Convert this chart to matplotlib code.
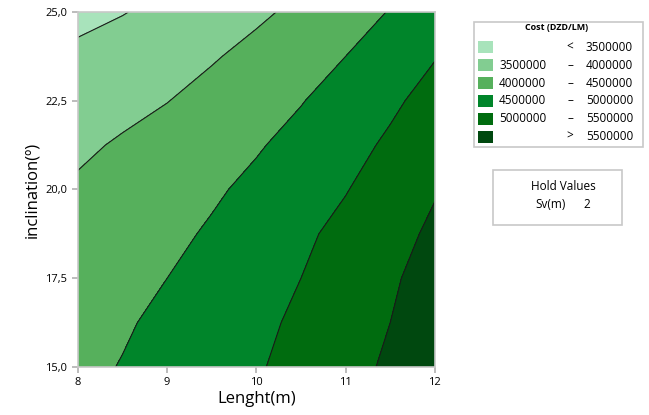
import matplotlib.pyplot as plt
from matplotlib.patches import Rectangle
import numpy as np

# Data (cost in DZD/LM, millions)
LENGTH = [8, 8.5, 9, 9.5, 10, 10.5, 11, 11.5, 12]
INCLINATION = [15.0, 16.25, 17.5, 18.75, 20.0, 21.25, 22.5, 23.75, 25.0]
COST = [  # rows = inclination, cols = length
    [4.39, 4.52, 4.67, 4.81, 4.96, 5.14, 5.35, 5.57, 5.82],
    [4.30, 4.45, 4.60, 4.75, 4.90, 5.08, 5.29, 5.50, 5.76],
    [4.22, 4.36, 4.50, 4.67, 4.84, 5.00, 5.22, 5.44, 5.68],
    [4.13, 4.27, 4.40, 4.55, 4.74, 4.92, 5.12, 5.35, 5.58],
    [4.06, 4.19, 4.31, 4.44, 4.60, 4.79, 4.98, 5.22, 5.47],
    [3.92, 4.05, 4.18, 4.32, 4.46, 4.64, 4.85, 5.07, 5.33],
    [3.75, 3.87, 3.99, 4.15, 4.31, 4.48, 4.69, 4.92, 5.16],
    [3.59, 3.72, 3.84, 3.96, 4.13, 4.31, 4.50, 4.74, 4.98],
    [3.38, 3.48, 3.63, 3.78, 3.92, 4.10, 4.31, 4.52, 4.76],
]
LEVELS = [3.5, 4.0, 4.5, 5.0, 5.5]
COLORS = ["#a8e3bb", "#82cd91", "#56b05c", "#00852a", "#006c0f", "#00480f"]
LEGEND_LABELS = [("", "<", "3500000"),
                 ("3500000", "–", "4000000"),
                 ("4000000", "–", "4500000"),
                 ("4500000", "–", "5000000"),
                 ("5000000", "–", "5500000"),
                 ("", ">", "5500000")]

plt.rcParams['font.family'] = ['Open Sans', 'DejaVu Sans']

fig = plt.figure(figsize=(6.49, 4.15), dpi=100)
ax = fig.add_axes([0.120, 0.1157, 0.550, 0.8554])

X, Y = np.meshgrid(LENGTH, INCLINATION)
Z = np.array(COST)
ax.contourf(X, Y, Z, levels=[0] + LEVELS + [10], colors=COLORS)
ax.contour(X, Y, Z, levels=LEVELS, colors="#1a1a1a", linewidths=0.8)

ax.set_xlim(8, 12)
ax.set_ylim(15, 25)
ax.set_xticks([8, 9, 10, 11, 12])
ax.set_yticks([15, 17.5, 20, 22.5, 25])
ax.set_yticklabels(["15,0", "17,5", "20,0", "22,5", "25,0"])
ax.tick_params(labelsize=8, color="#b0b0b0", length=4, width=1.2)
for s in ax.spines.values():
    s.set_color("#c8c8c8")
    s.set_linewidth(1.2)
ax.set_xlabel("Lenght(m)", fontsize=12, labelpad=2)
ax.set_ylabel("inclination(º)", fontsize=12, labelpad=4)

# Legend box drawn by hand
W, H = 649.0, 415.0
def fx(px): return px / W
def fy(py): return 1 - py / H

fig.patches.append(Rectangle((fx(474), fy(147)), fx(643) - fx(474), fy(22) - fy(147),
                             transform=fig.transFigure, fill=False,
                             edgecolor="#c8c8c8", linewidth=1.2))
fig.text(fx(557), fy(28), "Cost (DZD/LM)", fontsize=6.5, fontweight="bold",
         ha="center", va="center")
for i, (lo, sym, hi) in enumerate(LEGEND_LABELS):
    yc = 47.5 + i * 17.8
    fig.patches.append(Rectangle((fx(478), fy(yc + 6)), fx(15), 12 / H,
                                 transform=fig.transFigure, facecolor=COLORS[i],
                                 edgecolor="none"))
    if lo:
        fig.text(fx(499), fy(yc), lo, fontsize=8.5, ha="left", va="center")
    fig.text(fx(570), fy(yc), sym, fontsize=8.5, ha="center", va="center")
    fig.text(fx(633), fy(yc), hi, fontsize=8.5, ha="right", va="center")

# Hold values box
fig.patches.append(Rectangle((fx(493), fy(225)), fx(622) - fx(493), fy(170) - fy(225),
                             transform=fig.transFigure, fill=False,
                             edgecolor="#c8c8c8", linewidth=1.2))
fig.text(fx(563), fy(187), "Hold Values", fontsize=8.5, ha="center", va="center")
fig.text(fx(535), fy(204), "Sv(m)", fontsize=8.5, ha="left", va="center")
fig.text(fx(587), fy(204), "2", fontsize=8.5, ha="center", va="center")

fig.savefig("out.png", dpi=100)
